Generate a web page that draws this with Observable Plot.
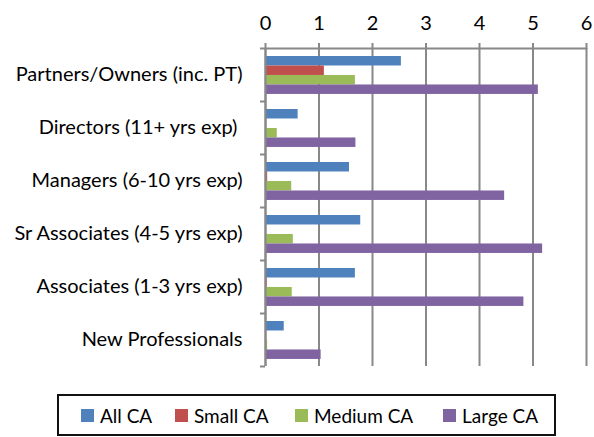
<!DOCTYPE html>
<html><head><meta charset="utf-8">
<script src="https://cdn.jsdelivr.net/npm/d3@7"></script>
<script src="https://cdn.jsdelivr.net/npm/@observablehq/plot@0.6"></script>
<style>
body{margin:0;background:#fff;font-family:Lato,sans-serif;}
#legend{position:absolute;left:57px;top:394px;width:495px;height:38px;border:2px solid #111;box-sizing:content-box;font-size:19px;color:#000;}
.item{display:flex;align-items:center;position:absolute;top:0;height:38px;}
.sw{width:13px;height:13px;margin-right:6px;}
</style></head><body><div id="chart"></div><div id="legend"></div>
<script>
const categories = ["Partners/Owners (inc. PT)","Directors (11+ yrs exp) ","Managers (6-10 yrs exp)","Sr Associates (4-5 yrs exp)","Associates (1-3 yrs exp)","New Professionals"];
const series = ["All CA","Small CA","Medium CA","Large CA"];
const allCA = [2.54,0.61,1.57,1.78,1.68,0.35];
const smallCA = [1.10,0.02,0.04,0,0.03,0.01];
const mediumCA = [1.68,0.22,0.49,0.52,0.50,0.04];
const largeCA = [5.10,1.69,4.47,5.18,4.83,1.04];
const xTicks = [0,1,2,3,4,5,6];
const colors = ["#4F81BD","#C0504D","#9BBB59","#8064A2"];

const values = [allCA, smallCA, mediumCA, largeCA];
const pad = 0.151, bh = 0.179;
const data = [];
categories.forEach((c, ci) => series.forEach((s, si) => {
  data.push({category: c, series: s, value: values[si][ci], y1: ci + pad + si*bh, y2: ci + pad + (si+1)*bh});
}));

const chart = Plot.plot({
  width: 594, height: 388,
  marginTop: 48, marginBottom: 22, marginLeft: 265, marginRight: 8,
  style: {fontFamily: "Lato, sans-serif", color: "#000", background: "#fff"},
  x: {domain: [0, 6]},
  y: {domain: [0, 6], reverse: true},
  color: {domain: series, range: colors},
  marks: [
    Plot.gridX(xTicks, {stroke: "#888", strokeOpacity: 1, strokeWidth: 2}),
    Plot.rectX(data, {x1: 0, x2: "value", y1: "y1", y2: "y2", fill: "series"}),
    Plot.ruleY([0], {stroke: "#888", strokeWidth: 2}),
    Plot.ruleX([0], {stroke: "#888", strokeWidth: 2}),
    Plot.axisX(xTicks, {anchor: "top", tickSize: 6, tickPadding: 13, fontSize: 20, stroke: "#888", strokeWidth: 2, tickFormat: d => d, label: null}),
    Plot.axisY(d3.range(7), {anchor: "left", tickSize: 5, tickFormat: () => "", stroke: "#888", strokeWidth: 2, label: null}),
    Plot.axisY(categories.map((c, i) => i + 0.5), {anchor: "left", tickSize: 0, tickPadding: 23, fontSize: 20, tickFormat: v => categories[Math.floor(v)], label: null})
  ]
});
document.getElementById("chart").appendChild(chart);

const legend = document.getElementById("legend");
const lx = [22, 116, 236, 384];
series.forEach((s, i) => {
  const it = document.createElement("div");
  it.className = "item";
  it.style.left = lx[i] + "px";
  it.innerHTML = `<div class="sw" style="background:${colors[i]}"></div><span>${s}</span>`;
  legend.appendChild(it);
});
</script>
</body></html>
